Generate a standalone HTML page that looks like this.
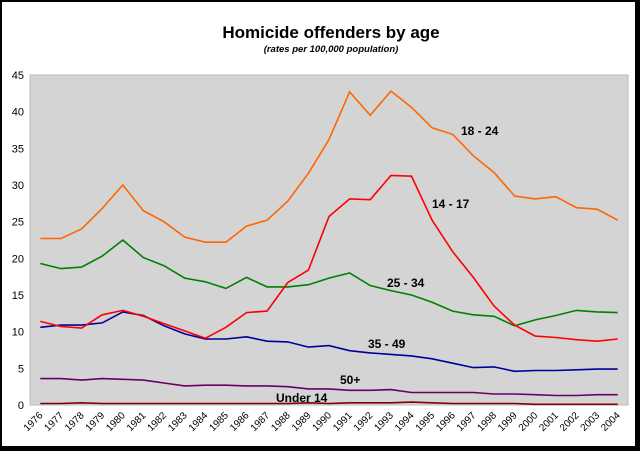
<!DOCTYPE html>
<html><head><meta charset="utf-8"><style>
body{margin:0;background:#000;width:640px;height:451px;overflow:hidden}
svg{display:block}
text{font-family:"Liberation Sans",Arial,sans-serif}
</style></head><body>
<svg width="640" height="451">
<rect x="2" y="2" width="633" height="444" fill="#fff"/>
<text x="331" y="38" text-anchor="middle" font-size="17" font-weight="bold">Homicide offenders by age</text>
<text x="331" y="52" text-anchor="middle" font-size="9.5" font-weight="bold" font-style="italic">(rates per 100,000 population)</text>
<rect x="30" y="75" width="598" height="330" fill="#d4d4d4" stroke="#bbb"/>
<g id="yaxis"></g><g id="xaxis"></g><g id="series"></g>
<g font-size="12" font-weight="bold">
<text x="461" y="135">18 - 24</text>
<text x="432" y="208">14 - 17</text>
<text x="387" y="287">25 - 34</text>
<text x="368" y="348">35 - 49</text>
<text x="340" y="384">50+</text>
<text x="276" y="402">Under 14</text>
</g>
</svg>
<script>
const years=[1976,1977,1978,1979,1980,1981,1982,1983,1984,1985,1986,1987,1988,1989,1990,1991,1992,1993,1994,1995,1996,1997,1998,1999,2000,2001,2002,2003,2004];
const yTicks=[0,5,10,15,20,25,30,35,40,45];
const s18_24=[22.7,22.7,24,26.8,30,26.5,25,22.9,22.2,22.2,24.4,25.2,27.8,31.6,36.2,42.7,39.5,42.8,40.6,37.8,36.9,34.0,31.7,28.5,28.1,28.4,26.9,26.7,25.2];
const s14_17=[11.4,10.7,10.5,12.3,12.9,12.1,11.1,10.1,9.1,10.6,12.6,12.8,16.7,18.4,25.7,28.1,28.0,31.3,31.2,25.2,20.9,17.4,13.5,10.9,9.4,9.2,8.9,8.7,9.0];
const s25_34=[19.3,18.6,18.8,20.3,22.5,20.1,19.0,17.3,16.8,15.9,17.4,16.1,16.1,16.4,17.3,18.0,16.3,15.6,15.0,14.0,12.8,12.3,12.1,10.8,11.6,12.2,12.9,12.7,12.6];
const s35_49=[10.6,10.9,10.9,11.2,12.7,12.2,10.8,9.7,9.0,9.0,9.3,8.7,8.6,7.9,8.1,7.4,7.1,6.9,6.7,6.3,5.7,5.1,5.2,4.6,4.7,4.7,4.8,4.9,4.9];
const s50=[3.6,3.6,3.4,3.6,3.5,3.4,3.0,2.6,2.7,2.7,2.6,2.6,2.5,2.2,2.2,2.0,2.0,2.1,1.7,1.7,1.7,1.7,1.5,1.5,1.4,1.3,1.3,1.4,1.4];
const sU14=[0.2,0.2,0.3,0.2,0.2,0.2,0.2,0.2,0.2,0.2,0.2,0.2,0.2,0.3,0.2,0.3,0.3,0.3,0.4,0.3,0.2,0.2,0.2,0.2,0.1,0.1,0.1,0.1,0.1];
const NS='http://www.w3.org/2000/svg';
const L=30,R=628,T=75,B=405,yMax=45;
const step=(R-L)/years.length;
function xs(i){return L+step*(i+0.5);}
function ys(v){return B-(v/yMax)*(B-T);}
const ya=document.getElementById('yaxis');
yTicks.forEach(v=>{
 const t=document.createElementNS(NS,'text');
 t.setAttribute('x',24);t.setAttribute('y',ys(v)+4);
 t.setAttribute('text-anchor','end');t.setAttribute('font-size','11');
 
 
 t.textContent=v;ya.appendChild(t);
});
const xa=document.getElementById('xaxis');
years.forEach((y,i)=>{
 const t=document.createElementNS(NS,'text');
 const x=xs(i)-2,yy=411;
 t.setAttribute('x',x);t.setAttribute('y',yy);
 t.setAttribute('text-anchor','end');t.setAttribute('font-size','10');
 t.setAttribute('transform','rotate(-45 '+x+' '+yy+')');
 t.setAttribute('dy','0.7em');
 
 
 t.textContent=y;xa.appendChild(t);
});
const sg=document.getElementById('series');
[[sU14,'#800000','series-under-14'],[s50,'#660066','series-50-plus'],[s35_49,'#000099','series-35-49'],[s25_34,'#008000','series-25-34'],[s14_17,'#ff0000','series-14-17'],[s18_24,'#ff6600','series-18-24']].forEach(([d,c,n])=>{
 const p=document.createElementNS(NS,'polyline');
 p.setAttribute('points',d.map((v,i)=>xs(i).toFixed(1)+','+ys(v).toFixed(1)).join(' '));
 p.setAttribute('fill','none');p.setAttribute('stroke',c);p.setAttribute('stroke-width','1.6');
 
 
 sg.appendChild(p);
});
</script>
</body></html>
